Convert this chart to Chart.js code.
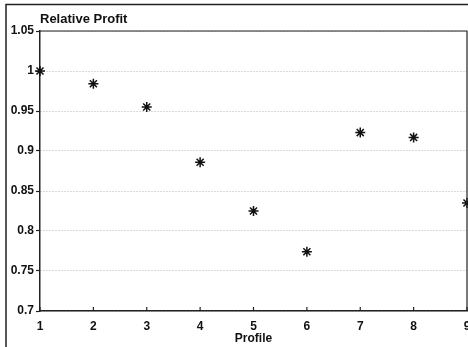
<!DOCTYPE html>
<html lang="en">
<head>
    <meta charset="UTF-8">
    <title>Relative Profit</title>
    <script src="https://cdn.jsdelivr.net/npm/chart.js@4.4.1/dist/chart.umd.min.js"></script>
    <style>
        body { margin: 0; background: #fff; overflow: hidden; }
        #wrap { width: 468px; height: 347px; overflow: hidden; }
    </style>
</head>
<body>
    <div id="wrap"><canvas id="profitChart" width="474" height="347"></canvas></div>

    <script>
        var profiles = [1, 2, 3, 4, 5, 6, 7, 8, 9];
        var relativeProfit = [1.0, 0.984, 0.955, 0.886, 0.825, 0.774, 0.923, 0.917, 0.835];
        var yTicks = [0.7, 0.75, 0.8, 0.85, 0.9, 0.95, 1, 1.05];
        var yLabels = ['0.7', '0.75', '0.8', '0.85', '0.9', '0.95', '1', '1.05'];
        var xTicks = [1, 2, 3, 4, 5, 6, 7, 8, 9];

        var font = "'Liberation Sans', Arial, Helvetica, sans-serif";

        // frame, plot box, inward x ticks and the y title
        var decorations = {
            id: 'decorations',
            afterDraw: function(chart) {
                var c = chart.ctx, a = chart.chartArea, xs = chart.scales.x;
                c.save();
                c.strokeStyle = '#222';
                c.lineWidth = 1.5;
                c.beginPath();
                c.moveTo(6, 347); c.lineTo(6, 4.5); c.lineTo(474, 4.5);
                c.stroke();
                c.lineWidth = 1.2;
                c.beginPath();
                c.moveTo(a.left, a.top); c.lineTo(a.right, a.top); c.lineTo(a.right, a.bottom);
                c.stroke();
                c.beginPath();
                xTicks.forEach(function(v) {
                    var px = xs.getPixelForValue(v);
                    c.moveTo(px, a.bottom); c.lineTo(px, a.bottom - 4);
                });
                c.stroke();
                c.fillStyle = '#111';
                c.font = 'bold 13px ' + font;
                c.textBaseline = 'middle';
                c.fillText('Relative Profit', a.left, 19.5);
                c.restore();
            }
        };

        var ctx = document.getElementById('profitChart').getContext('2d');
        var profitChart = new Chart(ctx, {
            type: 'scatter',
            data: {
                datasets: [{
                    data: profiles.map(function(p, i) { return { x: p, y: relativeProfit[i] }; }),
                    pointStyle: 'star',
                    radius: 5,
                    borderColor: '#111',
                    backgroundColor: '#111',
                    borderWidth: 1.5,
                    clip: false
                }]
            },
            options: {
                responsive: false,
                animation: false,
                layout: { padding: { top: 31, right: 7, left: 0, bottom: 0 } },
                plugins: { legend: { display: false }, tooltip: { enabled: false } },
                scales: {
                    x: {
                        type: 'linear',
                        min: 1,
                        max: 9,
                        afterBuildTicks: function(s) { s.ticks = xTicks.map(function(v) { return { value: v }; }); },
                        afterFit: function(s) { s.height = 36; s.paddingLeft = 0; s.paddingRight = 0; },
                        ticks: { padding: 8, color: '#111', font: { family: font, size: 12, weight: 'bold' } },
                        grid: { display: false, drawTicks: false },
                        border: { color: '#222', width: 1.5 },
                        title: {
                            display: true,
                            text: 'Profile',
                            color: '#111',
                            padding: { top: 0, bottom: 1 },
                            font: { family: font, size: 12, weight: 'bold' }
                        }
                    },
                    y: {
                        type: 'linear',
                        min: 0.7,
                        max: 1.05,
                        afterBuildTicks: function(s) { s.ticks = yTicks.map(function(v) { return { value: v }; }); },
                        afterFit: function(s) { s.width = 40; },
                        ticks: {
                            padding: 2,
                            color: '#111',
                            font: { family: font, size: 12, weight: 'bold' },
                            callback: function(v) { return yLabels[yTicks.indexOf(v)]; }
                        },
                        grid: {
                            color: '#b5b5b5',
                            lineWidth: 1,
                            tickLength: 4,
                            tickColor: '#222',
                            tickWidth: 1.2,
                            tickBorderDash: []
                        },
                        border: { color: '#222', width: 1.5, dash: [1, 2] }
                    }
                }
            },
            plugins: [decorations]
        });
    </script>
</body>
</html>
